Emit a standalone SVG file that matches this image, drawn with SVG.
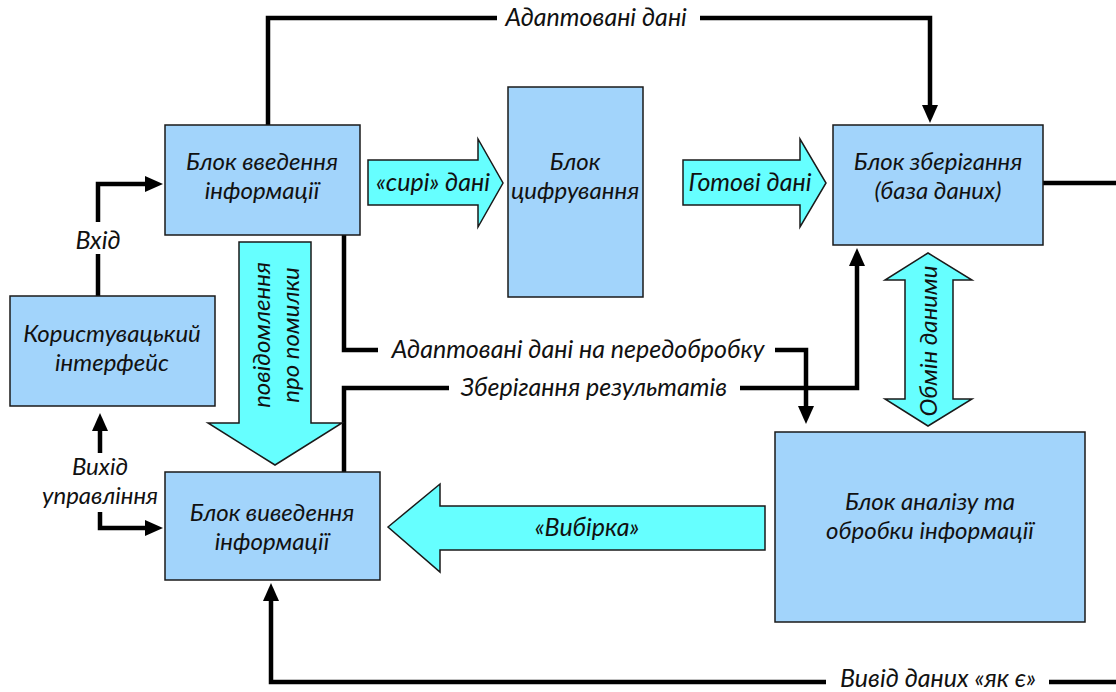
<svg xmlns="http://www.w3.org/2000/svg" width="1116" height="692" viewBox="0 0 1116 692">
  <style>
    .box { fill: #A2D4FB; stroke: #1a1a1a; stroke-width: 1.5; }
    .flow { fill: #66FFFF; stroke: #1a1a1a; stroke-width: 1.5; stroke-linejoin: miter; }
    .wire { fill: none; stroke: #000; stroke-width: 4.5; stroke-linecap: butt; stroke-linejoin: miter; }
    .txt { font-family: Lato, "Open Sans", "Noto Sans", sans-serif; font-style: italic; font-size: 25px; fill: #111; text-anchor: middle; }
    .two { font-size: 24px; }
    .vtxt { font-size: 24px; }
  </style>
  <defs>
    <marker id="head" markerUnits="userSpaceOnUse" viewBox="0 0 18 16" refX="2" refY="8" markerWidth="18" markerHeight="16" orient="auto">
      <path d="M0,0 L18,8 L0,16 Z" fill="#000"/>
    </marker>
  </defs>

  <rect width="1116" height="692" fill="#fff"/>

  <!-- connectors -->
  <g id="connectors">
    <path class="wire" d="M268,125 V18 H497"/>
    <path class="wire" d="M700,18 H930 V107" marker-end="url(#head)"/>
    <path class="wire" d="M98,296 V254"/>
    <path class="wire" d="M98,222 V184 H147" marker-end="url(#head)"/>
    <path class="wire" d="M100,453 V429" marker-end="url(#head)"/>
    <path class="wire" d="M100,512 V528 H147" marker-end="url(#head)"/>
    <path class="wire" d="M344,235 V350 H378"/>
    <path class="wire" d="M775,350 H806 V408" marker-end="url(#head)"/>
    <path class="wire" d="M344,472 V388 H449"/>
    <path class="wire" d="M740,388 H857 V264" marker-end="url(#head)"/>
    <path class="wire" d="M1043,183 H1116"/>
    <path class="wire" d="M1116,682 H1049"/>
    <path class="wire" d="M826,682 H271 V599" marker-end="url(#head)"/>

    <text class="txt" x="596" y="26">Адаптовані дані</text>
    <text class="txt" x="98" y="249">Вхід</text>
    <text class="txt two" x="100" y="475">Вихід<tspan x="100" dy="29">управління</tspan></text>
    <text class="txt" x="578" y="358">Адаптовані дані на передобробку</text>
    <text class="txt" x="594" y="396">Зберігання результатів</text>
    <text class="txt" x="938" y="687">Вивід даних «як є»</text>
  </g>

  <!-- block arrows -->
  <g id="raw-data">
    <polygon class="flow" points="368,160 478,160 478,139 503,183 478,227 478,205 368,205"/>
    <text class="txt" x="433" y="191">«сирі» дані</text>
  </g>
  <g id="ready-data">
    <polygon class="flow" points="683,160 800,160 800,139 826,183 800,227 800,205 683,205"/>
    <text class="txt" x="750" y="191">Готові дані</text>
  </g>
  <g id="error-messages">
    <polygon class="flow" points="239,242 311,242 311,423 342,423 275,465 208,423 239,423"/>
    <text class="txt vtxt" transform="translate(262,335) rotate(-90)" y="8">повідомлення<tspan x="0" dy="29">про помилки</tspan></text>
  </g>
  <g id="data-exchange">
    <polygon class="flow" points="928,253 972,280 953,280 953,399 972,399 928,426 885,399 905,399 905,280 885,280"/>
    <text class="txt vtxt" transform="translate(929,341) rotate(-90)" y="8">Обмін даними</text>
  </g>
  <g id="selection">
    <polygon class="flow" points="388,527 440,484 440,506 765,506 765,550 440,550 440,572"/>
    <text class="txt" x="587" y="536">«Вибірка»</text>
  </g>

  <!-- blocks -->
  <g id="input-block">
    <rect class="box" x="165" y="125" width="195" height="110"/>
    <text class="txt two" x="262" y="170">Блок введення<tspan x="262" dy="29">інформації</tspan></text>
  </g>
  <g id="digitizing-block">
    <rect class="box" x="508" y="87" width="135" height="210"/>
    <text class="txt two" x="575" y="170">Блок<tspan x="575" dy="29">цифрування</tspan></text>
  </g>
  <g id="storage-block">
    <rect class="box" x="833" y="125" width="210" height="120"/>
    <text class="txt two" x="938" y="170">Блок зберігання<tspan x="938" dy="29">(база даних)</tspan></text>
  </g>
  <g id="user-interface">
    <rect class="box" x="10" y="296" width="205" height="110"/>
    <text class="txt two" x="112" y="342">Користувацький<tspan x="112" dy="29">інтерфейс</tspan></text>
  </g>
  <g id="output-block">
    <rect class="box" x="165" y="472" width="215" height="108"/>
    <text class="txt two" x="272" y="521">Блок виведення<tspan x="272" dy="29">інформації</tspan></text>
  </g>
  <g id="analysis-block">
    <rect class="box" x="775" y="432" width="310" height="190"/>
    <text class="txt two" x="930" y="510">Блок аналізу та<tspan x="930" dy="29">обробки інформації</tspan></text>
  </g>
</svg>
